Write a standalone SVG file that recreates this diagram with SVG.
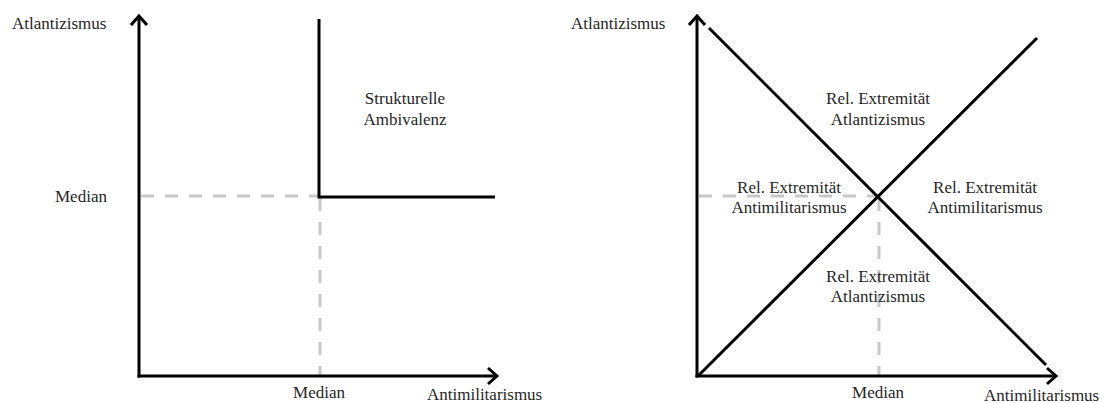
<svg xmlns="http://www.w3.org/2000/svg" width="1108" height="403" viewBox="0 0 1108 403">
  <style>
    .axis { stroke: #000; stroke-width: 3; fill: none; }
    .solid { stroke: #000; stroke-width: 3; fill: none; stroke-linecap: butt; }
    .dash { stroke: #c8c8c8; stroke-width: 3; fill: none; stroke-dasharray: 13 11; }
    text { font-family: "Liberation Serif", "Times New Roman", serif; font-size: 17px; fill: #262626; }
    .mid { text-anchor: middle; }
  </style>
  <defs>
    <marker id="arr" viewBox="0 0 20 20" refX="17" refY="10" markerWidth="20" markerHeight="20" markerUnits="userSpaceOnUse" orient="auto">
      <path d="M8,2 L17,10 L8,18" fill="none" stroke="#000" stroke-width="3" stroke-linejoin="miter"/>
    </marker>
  </defs>
  <rect width="1108" height="403" fill="#fff"/>

  <g id="connectors">
    <!-- left chart -->
    <line class="dash" x1="141" y1="196" x2="319" y2="196"/>
    <line class="dash" x1="320" y1="198" x2="320" y2="376"/>
    <line class="axis" x1="139" y1="377.5" x2="139" y2="16" marker-end="url(#arr)"/>
    <line class="axis" x1="137.5" y1="376" x2="497" y2="376" marker-end="url(#arr)"/>
    <polyline class="solid" points="319,19 319,197 495,197"/>
    <!-- right chart -->
    <line class="dash" x1="699" y1="196" x2="878" y2="196"/>
    <line class="dash" x1="879" y1="198" x2="879" y2="376"/>
    <line class="axis" x1="697" y1="377.5" x2="697" y2="16" marker-end="url(#arr)"/>
    <line class="axis" x1="695.5" y1="376" x2="1056" y2="376" marker-end="url(#arr)"/>
    <line class="solid" x1="709" y1="28" x2="1046" y2="365"/>
    <line class="solid" x1="698" y1="376" x2="1037" y2="38"/>
  </g>

  <g id="left-axis-labels">
    <text x="12" y="29">Atlantizismus</text>
    <text x="55" y="202">Median</text>
    <text class="mid" x="319" y="398">Median</text>
    <text x="427" y="400">Antimilitarismus</text>
  </g>
  <g id="node-strukturelle-ambivalenz">
    <text class="mid" x="405" y="104">Strukturelle</text>
    <text class="mid" x="405" y="125">Ambivalenz</text>
  </g>

  <g id="right-axis-labels">
    <text x="571" y="29">Atlantizismus</text>
    <text class="mid" x="878" y="398">Median</text>
    <text x="984" y="401">Antimilitarismus</text>
  </g>
  <g id="node-top">
    <text class="mid" x="878" y="104">Rel. Extremität</text>
    <text class="mid" x="878" y="125">Atlantizismus</text>
  </g>
  <g id="node-left">
    <text class="mid" x="789" y="193">Rel. Extremität</text>
    <text class="mid" x="789" y="213">Antimilitarismus</text>
  </g>
  <g id="node-right">
    <text class="mid" x="985" y="193">Rel. Extremität</text>
    <text class="mid" x="985" y="213">Antimilitarismus</text>
  </g>
  <g id="node-bottom">
    <text class="mid" x="878" y="282">Rel. Extremität</text>
    <text class="mid" x="878" y="302">Atlantizismus</text>
  </g>
</svg>
